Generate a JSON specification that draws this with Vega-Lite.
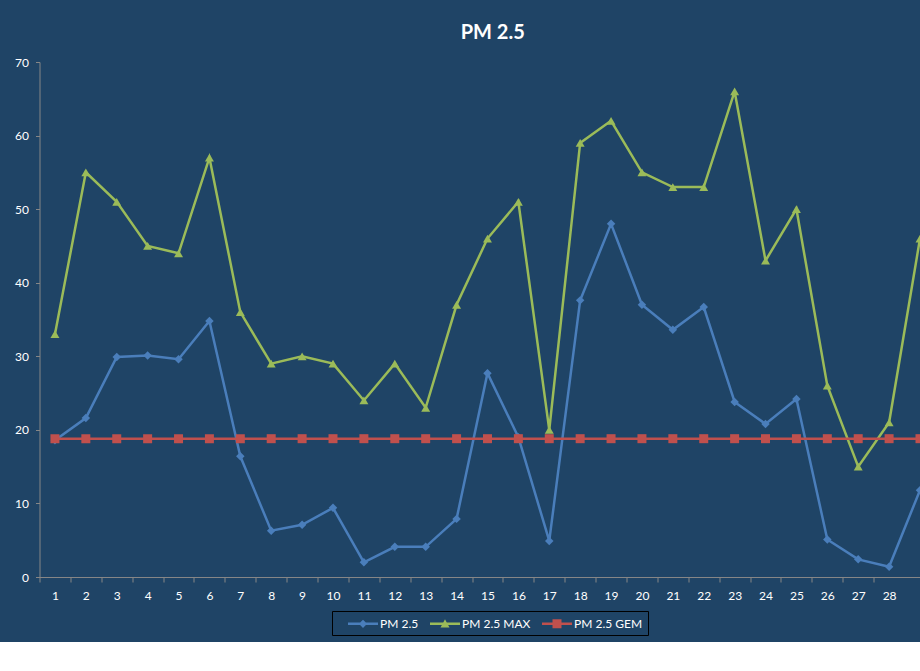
{
  "$schema": "https://vega.github.io/schema/vega-lite/v6.json",
  "width": 880.5,
  "height": 515,
  "autosize": {"type": "none"},
  "padding": {"left": 39.5, "top": 62, "right": 0, "bottom": 65},
  "background": "#1F4466",
  "title": {
    "text": "PM 2.5",
    "font": "Lato",
    "fontSize": 20,
    "fontWeight": "bold",
    "color": "white",
    "anchor": "middle",
    "frame": "group",
    "baseline": "alphabetic",
    "offset": 24,
    "dx": 13,
    "dy": 27
  },
  "data": {
    "values": [
      {"day": 1, "series": "PM 2.5", "value": 18.6},
      {"day": 2, "series": "PM 2.5", "value": 21.6},
      {"day": 3, "series": "PM 2.5", "value": 29.9},
      {"day": 4, "series": "PM 2.5", "value": 30.1},
      {"day": 5, "series": "PM 2.5", "value": 29.6},
      {"day": 6, "series": "PM 2.5", "value": 34.8},
      {"day": 7, "series": "PM 2.5", "value": 16.4},
      {"day": 8, "series": "PM 2.5", "value": 6.3},
      {"day": 9, "series": "PM 2.5", "value": 7.1},
      {"day": 10, "series": "PM 2.5", "value": 9.4},
      {"day": 11, "series": "PM 2.5", "value": 2.0},
      {"day": 12, "series": "PM 2.5", "value": 4.1},
      {"day": 13, "series": "PM 2.5", "value": 4.1},
      {"day": 14, "series": "PM 2.5", "value": 7.9},
      {"day": 15, "series": "PM 2.5", "value": 27.7},
      {"day": 16, "series": "PM 2.5", "value": 19.0},
      {"day": 17, "series": "PM 2.5", "value": 4.9},
      {"day": 18, "series": "PM 2.5", "value": 37.6},
      {"day": 19, "series": "PM 2.5", "value": 48.0},
      {"day": 20, "series": "PM 2.5", "value": 37.0},
      {"day": 21, "series": "PM 2.5", "value": 33.6},
      {"day": 22, "series": "PM 2.5", "value": 36.7},
      {"day": 23, "series": "PM 2.5", "value": 23.8},
      {"day": 24, "series": "PM 2.5", "value": 20.8},
      {"day": 25, "series": "PM 2.5", "value": 24.2},
      {"day": 26, "series": "PM 2.5", "value": 5.1},
      {"day": 27, "series": "PM 2.5", "value": 2.4},
      {"day": 28, "series": "PM 2.5", "value": 1.4},
      {"day": 29, "series": "PM 2.5", "value": 11.8},
      {"day": 1, "series": "PM 2.5 MAX", "value": 33},
      {"day": 2, "series": "PM 2.5 MAX", "value": 55},
      {"day": 3, "series": "PM 2.5 MAX", "value": 51},
      {"day": 4, "series": "PM 2.5 MAX", "value": 45},
      {"day": 5, "series": "PM 2.5 MAX", "value": 44},
      {"day": 6, "series": "PM 2.5 MAX", "value": 57},
      {"day": 7, "series": "PM 2.5 MAX", "value": 36},
      {"day": 8, "series": "PM 2.5 MAX", "value": 29},
      {"day": 9, "series": "PM 2.5 MAX", "value": 30},
      {"day": 10, "series": "PM 2.5 MAX", "value": 29},
      {"day": 11, "series": "PM 2.5 MAX", "value": 24},
      {"day": 12, "series": "PM 2.5 MAX", "value": 29},
      {"day": 13, "series": "PM 2.5 MAX", "value": 23},
      {"day": 14, "series": "PM 2.5 MAX", "value": 37},
      {"day": 15, "series": "PM 2.5 MAX", "value": 46},
      {"day": 16, "series": "PM 2.5 MAX", "value": 51},
      {"day": 17, "series": "PM 2.5 MAX", "value": 20},
      {"day": 18, "series": "PM 2.5 MAX", "value": 59},
      {"day": 19, "series": "PM 2.5 MAX", "value": 62},
      {"day": 20, "series": "PM 2.5 MAX", "value": 55},
      {"day": 21, "series": "PM 2.5 MAX", "value": 53},
      {"day": 22, "series": "PM 2.5 MAX", "value": 53},
      {"day": 23, "series": "PM 2.5 MAX", "value": 66},
      {"day": 24, "series": "PM 2.5 MAX", "value": 43},
      {"day": 25, "series": "PM 2.5 MAX", "value": 50},
      {"day": 26, "series": "PM 2.5 MAX", "value": 26},
      {"day": 27, "series": "PM 2.5 MAX", "value": 15},
      {"day": 28, "series": "PM 2.5 MAX", "value": 21},
      {"day": 29, "series": "PM 2.5 MAX", "value": 46},
      {"day": 1, "series": "PM 2.5 GEM", "value": 18.8},
      {"day": 2, "series": "PM 2.5 GEM", "value": 18.8},
      {"day": 3, "series": "PM 2.5 GEM", "value": 18.8},
      {"day": 4, "series": "PM 2.5 GEM", "value": 18.8},
      {"day": 5, "series": "PM 2.5 GEM", "value": 18.8},
      {"day": 6, "series": "PM 2.5 GEM", "value": 18.8},
      {"day": 7, "series": "PM 2.5 GEM", "value": 18.8},
      {"day": 8, "series": "PM 2.5 GEM", "value": 18.8},
      {"day": 9, "series": "PM 2.5 GEM", "value": 18.8},
      {"day": 10, "series": "PM 2.5 GEM", "value": 18.8},
      {"day": 11, "series": "PM 2.5 GEM", "value": 18.8},
      {"day": 12, "series": "PM 2.5 GEM", "value": 18.8},
      {"day": 13, "series": "PM 2.5 GEM", "value": 18.8},
      {"day": 14, "series": "PM 2.5 GEM", "value": 18.8},
      {"day": 15, "series": "PM 2.5 GEM", "value": 18.8},
      {"day": 16, "series": "PM 2.5 GEM", "value": 18.8},
      {"day": 17, "series": "PM 2.5 GEM", "value": 18.8},
      {"day": 18, "series": "PM 2.5 GEM", "value": 18.8},
      {"day": 19, "series": "PM 2.5 GEM", "value": 18.8},
      {"day": 20, "series": "PM 2.5 GEM", "value": 18.8},
      {"day": 21, "series": "PM 2.5 GEM", "value": 18.8},
      {"day": 22, "series": "PM 2.5 GEM", "value": 18.8},
      {"day": 23, "series": "PM 2.5 GEM", "value": 18.8},
      {"day": 24, "series": "PM 2.5 GEM", "value": 18.8},
      {"day": 25, "series": "PM 2.5 GEM", "value": 18.8},
      {"day": 26, "series": "PM 2.5 GEM", "value": 18.8},
      {"day": 27, "series": "PM 2.5 GEM", "value": 18.8},
      {"day": 28, "series": "PM 2.5 GEM", "value": 18.8},
      {"day": 29, "series": "PM 2.5 GEM", "value": 18.8}
    ]
  },
  "encoding": {
    "x": {
      "field": "day",
      "type": "quantitative",
      "title": null,
      "scale": {"domain": [0.5, 29.0], "nice": false, "zero": false},
      "axis": {
        "values": [1, 2, 3, 4, 5, 6, 7, 8, 9, 10, 11, 12, 13, 14, 15, 16, 17, 18, 19, 20, 21, 22, 23, 24, 25, 26, 27, 28],
        "grid": false,
        "domainColor": "#868686",
        "tickColor": "#868686",
        "tickSize": 5,
        "tickOffset": -15.45,
        "labelOffset": 15.45,
        "labelColor": "white",
        "labelFont": "Lato",
        "labelFontSize": 12,
        "labelPadding": 8,
        "labelFlush": false,
        "labelOverlap": false
      }
    },
    "y": {
      "field": "value",
      "type": "quantitative",
      "title": null,
      "scale": {"domain": [0, 70], "nice": false},
      "axis": {
        "values": [0, 10, 20, 30, 40, 50, 60, 70],
        "grid": false,
        "domainColor": "#868686",
        "tickColor": "#868686",
        "tickSize": 4,
        "labelColor": "white",
        "labelFont": "Lato",
        "labelFontSize": 12,
        "labelPadding": 7
      }
    }
  },
  "layer": [
    {
      "mark": {"type": "line", "strokeWidth": 2.5, "clip": true},
      "encoding": {
        "color": {
          "field": "series",
          "type": "nominal",
          "scale": {
            "domain": ["PM 2.5", "PM 2.5 MAX", "PM 2.5 GEM"],
            "range": ["#4A7EBB", "#9BBB59", "#C0504D"]
          },
          "legend": {
            "orient": "none",
            "legendX": 292.5,
            "legendY": 549,
            "direction": "horizontal",
            "title": null,
            "strokeColor": "black",
            "padding": 5,
            "labelColor": "white",
            "labelFont": "Lato",
            "labelFontSize": 12,
            "symbolSize": 225,
            "symbolStrokeWidth": 0,
            "symbolOffset": 18.5,
            "labelOffset": 9.5,
            "columnPadding": 0,
            "encode": {
              "symbols": {
                "update": {
                  "shape": {"signal": "datum.value === 'PM 2.5' ? 'M-2,-0.18H2V0.18H-2Z M0,-0.55L0.55,0L0,0.55L-0.55,0Z' : datum.value === 'PM 2.5 MAX' ? 'M-2,-0.18H2V0.18H-2Z M0,-0.6L0.6,0.5L-0.6,0.5Z' : 'M-2,-0.18H2V0.18H-2Z M-0.6,-0.6H0.6V0.6H-0.6Z'"},
                  "fill": {"scale": "color", "field": "value"},
                  "fillOpacity": {"value": 1},
                  "strokeWidth": {"value": 0}
                }
              }
            }
          }
        }
      }
    },
    {
      "transform": [{"filter": "datum.series === 'PM 2.5'"}],
      "mark": {"type": "point", "shape": "diamond", "filled": true, "opacity": 1, "size": 72, "color": "#4A7EBB", "clip": true}
    },
    {
      "transform": [{"filter": "datum.series === 'PM 2.5 MAX'"}],
      "mark": {"type": "point", "shape": "triangle-up", "filled": true, "opacity": 1, "size": 80, "color": "#9BBB59", "clip": true}
    },
    {
      "transform": [{"filter": "datum.series === 'PM 2.5 GEM'"}],
      "mark": {"type": "point", "shape": "square", "filled": true, "opacity": 1, "size": 81, "color": "#C0504D", "clip": true}
    }
  ],
  "config": {"view": {"stroke": null}}
}
